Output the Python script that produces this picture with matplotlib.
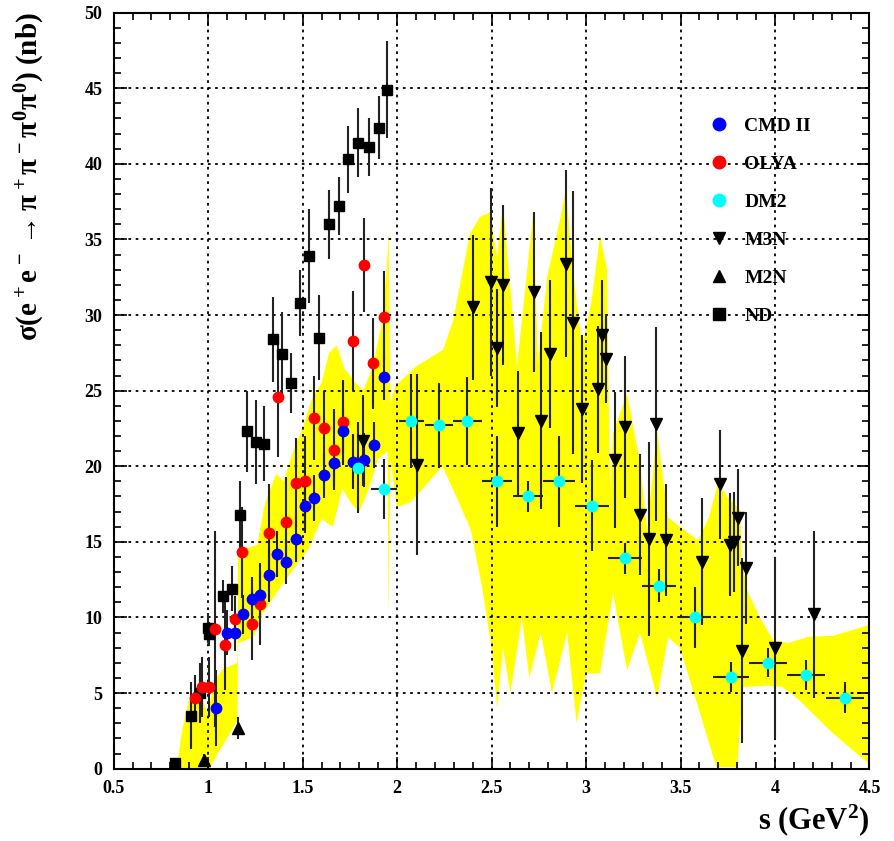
import numpy as np
import matplotlib
matplotlib.use('Agg')
import matplotlib.pyplot as plt
from matplotlib.ticker import MultipleLocator
from matplotlib.lines import Line2D

plt.rcParams['font.family'] = ['Liberation Serif', 'DejaVu Serif']
plt.rcParams['font.weight'] = 'bold'
plt.rcParams['axes.labelweight'] = 'bold'
plt.rcParams['mathtext.fontset'] = 'custom'
plt.rcParams['mathtext.rm'] = 'Liberation Serif:bold'
plt.rcParams['mathtext.it'] = 'Liberation Serif:bold'
plt.rcParams['mathtext.bf'] = 'Liberation Serif:bold'

# ND
nd_s = [0.825, 0.91, 0.958, 1.0, 1.005, 1.079, 1.127, 1.169, 1.206, 1.254, 1.296, 1.344, 1.392, 1.439,
        1.487, 1.534, 1.587, 1.640, 1.693, 1.741, 1.794, 1.852, 1.905, 1.947]
nd_y = [0.4, 3.5, 5.0, 9.3, 8.9, 11.4, 11.9, 16.8, 22.3, 21.6, 21.5, 28.4, 27.4, 25.5,
        30.8, 33.9, 28.5, 36.0, 37.2, 40.3, 41.4, 41.1, 42.4, 44.9]
nd_e = [0.3, 2.2, 2.0, 1.0, 0.8, 1.1, 1.5, 2.2, 2.7, 2.8, 2.5, 2.8, 2.8, 2.0,
        2.2, 3.1, 2.8, 2.3, 1.9, 2.2, 2.3, 1.9, 2.1, 3.2]

# OLYA
ol_s = [0.932, 0.968, 1.005, 1.037, 1.09, 1.143, 1.18, 1.233, 1.275, 1.323, 1.369, 1.413, 1.464,
        1.514, 1.561, 1.613, 1.666, 1.716, 1.767, 1.823, 1.872, 1.932]
ol_y = [4.7, 5.4, 5.4, 9.25, 8.2, 9.9, 14.3, 9.6, 10.9, 15.6, 24.6, 16.3, 18.9,
        19.0, 23.2, 22.5, 21.1, 22.9, 28.3, 33.3, 26.8, 29.9]
ol_e = [1.5, 2.0, 2.0, 6.5, 3.0, 1.5, 3.0, 2.4, 2.7, 3.2, 4.0, 3.0, 3.0,
        3.0, 2.8, 2.5, 2.7, 2.8, 3.3, 3.1, 3.0, 3.0]

# CMD II
cmd_s = [1.041, 1.10, 1.143, 1.185, 1.232, 1.276, 1.322, 1.366, 1.413, 1.464, 1.513, 1.562, 1.613,
         1.666, 1.716, 1.767, 1.825, 1.877, 1.932]
cmd_y = [4.0, 9.0, 9.0, 10.2, 11.2, 11.5, 12.8, 14.2, 13.7, 15.2, 17.4, 17.9, 19.4,
         20.2, 22.3, 20.3, 20.4, 21.4, 25.9]
cmd_e = [2.5, 1.5, 1.2, 1.3, 1.5, 1.5, 1.8, 1.5, 1.5, 1.5, 1.8, 1.5, 1.5,
         1.5, 1.5, 1.8, 1.8, 1.5, 1.5]

# DM2
dm_s = [1.795, 1.931, 2.074, 2.222, 2.372, 2.529, 2.692, 2.857, 3.031, 3.207, 3.388, 3.576, 3.766,
        3.963, 4.164, 4.37]
dm_y = [19.9, 18.5, 23.0, 22.7, 23.0, 19.0, 18.0, 19.0, 17.4, 13.9, 12.1, 10.0, 6.05,
        7.0, 6.2, 4.7]
dm_e = [3.0, 2.0, 3.1, 2.8, 2.9, 3.0, 1.0, 3.0, 3.0, 1.0, 1.1, 2.0, 1.0,
        0.95, 1.0, 1.0]
dm_xe = [0.0, 0.07, 0.066, 0.073, 0.077, 0.078, 0.08, 0.083, 0.088, 0.09, 0.09, 0.085, 0.094,
         0.1, 0.1, 0.1]

# M3N
m3_s = [1.82, 2.106, 2.402, 2.497, 2.528, 2.559, 2.641, 2.723, 2.762, 2.809, 2.894, 2.931, 2.978,
        3.063, 3.086, 3.106, 3.153, 3.206, 3.286, 3.334, 3.37, 3.423, 3.614, 3.709, 3.762, 3.783,
        3.806, 3.825, 3.847, 3.999, 4.205]
m3_y = [21.7, 20.1, 30.5, 32.2, 27.8, 32.0, 22.2, 31.5, 23.0, 27.4, 33.4, 29.5, 23.8,
        25.1, 28.7, 27.1, 20.4, 22.6, 16.8, 15.2, 22.8, 15.1, 13.7, 18.8, 14.8, 15.0,
        16.6, 7.8, 13.3, 8.0, 10.2]
m3_e = [3.0, 6.0, 4.8, 6.2, 3.9, 5.3, 4.1, 5.3, 5.85, 4.9, 6.2, 8.7, 4.9,
        4.2, 3.6, 2.9, 4.5, 4.7, 4.0, 6.4, 6.4, 3.7, 4.2, 3.6, 3.4, 3.3,
        3.2, 6.1, 3.7, 6.0, 5.5]

# M2N
m2_s = [0.979, 1.158]
m2_y = [0.57, 2.7]
m2_e = [0.4, 0.75]

# yellow band edges
up_s = [0.834, 0.86, 0.895, 0.93, 0.97, 1.0, 1.03, 1.08, 1.155, 1.158, 1.21, 1.26, 1.30, 1.36,
        1.40, 1.45, 1.50, 1.55, 1.60, 1.64, 1.68, 1.72, 1.78, 1.82, 1.87, 1.92, 1.945, 1.955,
        1.965, 1.99, 2.10, 2.243, 2.296, 2.386, 2.439, 2.492, 2.528, 2.561, 2.635, 2.72, 2.746,
        2.794, 2.862, 2.894, 2.93, 2.979, 3.03, 3.074, 3.111, 3.127, 3.143, 3.217, 3.286, 3.323,
        3.376, 3.434, 3.592, 3.65, 3.698, 3.746, 3.815, 3.825, 3.852, 3.92, 3.99, 4.07, 4.17,
        4.31, 4.5]
up_v = [0.0, 2.4, 4.4, 5.0, 4.6, 3.5, 5.8, 6.6, 7.0, 14.5, 14.6, 14.8, 17.5, 19.5,
        19.0, 21.0, 22.5, 24.5, 25.5, 27.5, 28.0, 26.5, 25.5, 25.0, 26.5, 29.5, 33.0, 35.6,
        24.2, 25.3, 26.6, 27.7, 29.6, 35.4, 36.5, 36.8, 33.8, 37.3, 26.6, 36.7, 26.8,
        32.5, 36.3, 38.4, 33.0, 27.9, 31.0, 35.3, 33.0, 18.4, 22.2, 24.8, 20.2, 15.7,
        22.4, 16.6, 15.1, 16.6, 18.9, 18.0, 17.1, 13.8, 11.8, 10.0, 8.5, 8.3, 8.7,
        8.8, 9.5]
lo_s = [0.834, 1.01, 1.05, 1.10, 1.155, 1.158, 1.24, 1.29, 1.35, 1.41, 1.47, 1.53, 1.60, 1.66,
        1.71, 1.76, 1.80, 1.85, 1.90, 1.95, 1.955, 1.965, 2.0, 2.07, 2.24, 2.32, 2.39, 2.45, 2.5,
        2.53, 2.56, 2.6, 2.66, 2.7, 2.76, 2.82, 2.9, 2.95, 3.0, 3.074, 3.143, 3.217, 3.286,
        3.376, 3.434, 3.497, 3.69, 3.80, 3.83, 3.96, 4.04, 4.13, 4.31, 4.49, 4.5]
lo_v = [0.0, 0.0, 1.0, 2.0, 3.2, 8.3, 8.7, 10.3, 11.4, 12.5, 13.5, 14.5, 16.5, 16.0,
        18.5, 17.5, 17.0, 18.5, 20.5, 21.0, 10.0, 20.5, 17.3, 17.6, 20.0, 17.8, 15.8, 12.0, 8.0,
        4.0, 8.0, 5.0, 10.0, 6.0, 9.0, 5.0, 9.0, 3.0, 6.3, 6.3, 11.6, 6.5, 9.0,
        4.7, 8.7, 8.0, 0.1, 0.1, 5.4, 5.5, 5.4, 4.5, 2.3, 0.4, 0.0]

fig = plt.figure(figsize=(8.95, 8.41), dpi=100)
ax = fig.add_axes([0.127, 0.086, 0.8445, 0.899])

ax.fill(np.concatenate([up_s, lo_s[::-1]]), np.concatenate([up_v, lo_v[::-1]]),
        color='#ffff00', lw=0, zorder=1)

ekw = dict(ls='none', ecolor='#222222', elinewidth=1.5, capsize=0, zorder=3)
ax.errorbar(nd_s, nd_y, yerr=nd_e, marker='s', ms=7.5, mfc='black', mec='black', **ekw)
ax.errorbar(m2_s, m2_y, yerr=m2_e, marker='^', ms=8, mfc='black', mec='black', **ekw)
ax.errorbar(m3_s, m3_y, yerr=m3_e, marker='v', ms=8, mfc='black', mec='black', **ekw)
ax.errorbar(ol_s, ol_y, yerr=ol_e, marker='o', ms=7.5, mfc='red', mec='red', **ekw)
ax.errorbar(cmd_s, cmd_y, yerr=cmd_e, marker='o', ms=7.5, mfc='blue', mec='blue', **ekw)
ax.errorbar(dm_s, dm_y, yerr=dm_e, xerr=dm_xe, marker='o', ms=7.5, mfc='cyan', mec='cyan', **ekw)

ax.set_xlim(0.5, 4.5)
ax.set_ylim(0, 50)
ax.xaxis.set_major_locator(MultipleLocator(0.5))
ax.xaxis.set_minor_locator(MultipleLocator(0.1))
ax.yaxis.set_major_locator(MultipleLocator(5))
ax.yaxis.set_minor_locator(MultipleLocator(1))
ax.set_xticks([0.5, 1, 1.5, 2, 2.5, 3, 3.5, 4, 4.5])
ax.set_xticklabels(['0.5', '1', '1.5', '2', '2.5', '3', '3.5', '4', '4.5'])
ax.tick_params(which='both', direction='in', top=True, right=True, width=1.2, labelsize=13)
ax.tick_params(which='major', length=9, pad=8)
ax.tick_params(which='minor', length=5)
ax.grid(True, which='major', color='black', ls=(0, (1.5, 2.5)), lw=1.3)
for sp in ax.spines.values():
    sp.set_linewidth(1.5)

ax.set_ylabel(r'$\sigma(e^+e^- \rightarrow \pi^+\pi^-\pi^0\pi^0)$ (nb)', fontsize=21, loc='top', labelpad=27)
ax.set_xlabel(r's (GeV$^2$)', fontsize=22, loc='right', labelpad=4)

handles = [
    Line2D([], [], ls='none', marker='o', ms=9, color='blue'),
    Line2D([], [], ls='none', marker='o', ms=9, color='red'),
    Line2D([], [], ls='none', marker='o', ms=9, color='cyan'),
    Line2D([], [], ls='none', marker='v', ms=9, color='black'),
    Line2D([], [], ls='none', marker='^', ms=9, color='black'),
    Line2D([], [], ls='none', marker='s', ms=9, color='black'),
]
ax.legend(handles, ['CMD II', 'OLYA', 'DM2', 'M3N', 'M2N', 'ND'], loc='upper left',
          bbox_to_anchor=(0.765, 0.885), frameon=False, fontsize=14, labelspacing=1.05,
          handletextpad=0.8, handlelength=1.0)

fig.savefig('out.png', dpi=100)
